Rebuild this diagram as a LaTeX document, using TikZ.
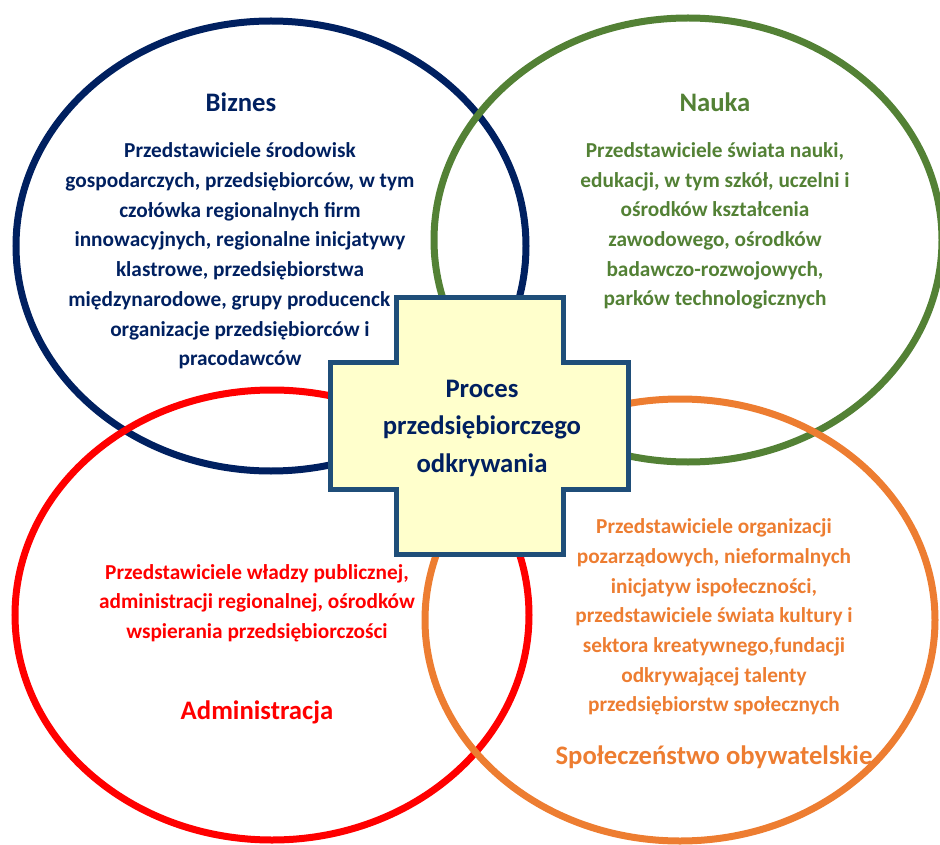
\documentclass[tikz,border=0pt]{standalone}
\usepackage{fontspec}
\setmainfont{Carlito}
\usepackage{tikz}
\usepackage{color}
\definecolor{biz}{HTML}{002060}
\definecolor{nauka}{HTML}{538135}
\definecolor{admin}{HTML}{FF0000}
\definecolor{spol}{HTML}{ED7D31}
\definecolor{ramka}{HTML}{1F4E79}
\definecolor{krzyz}{HTML}{FFFFCC}

\begin{document}
\begin{tikzpicture}[x=1pt,y=-1pt,
  krag/.style={line width=7pt},
  tytul/.style={font=\fontsize{26.7}{30}\selectfont\bfseries, inner sep=0pt},
  opis/.style={font=\fontsize{21.3}{29.7}\selectfont\bfseries, align=center, inner sep=0pt},
  srodek/.style={font=\fontsize{26.7}{37.5}\selectfont\bfseries, align=center, inner sep=0pt, text=biz}]
\useasboundingbox (0,0) rectangle (940,845);
% kola
\coordinate (b) at (271,246);
\coordinate (n) at (688,240);
\coordinate (a) at (272,615);
\coordinate (s) at (680,620);
\draw [krag, biz] (b) ellipse [x radius=255pt, y radius=225pt];
\draw [krag, nauka] (n) ellipse [x radius=254pt, y radius=222pt];
\draw [krag, admin] (a) ellipse [x radius=257pt, y radius=225pt];
\draw [krag, spol] (s) ellipse [x radius=255pt, y radius=221pt];
% biznes
\node [tytul, text=biz] (biznes) at (241,102) {Biznes};
\node [opis, text=biz] (biznesopis) at (240,256) {Przedstawiciele środowisk\\
gospodarczych, przedsiębiorców, w tym\\
czołówka regionalnych firm\\
innowacyjnych, regionalne inicjatywy\\
klastrowe,  przedsiębiorstwa\\
międzynarodowe, grupy producenck\phantom{ie,}\\
organizacje przedsiębiorców i\\
pracodawców};
% krzyz
\draw [line width=5pt, ramka, fill=krzyz] (330,362) -- (396,362) -- (396,297) -- (563,297)
  -- (563,362) -- (628,362) -- (628,489) -- (563,489) -- (563,554) -- (396,554)
  -- (396,489) -- (330,489) -- cycle;
\node [srodek] (proces) at (482,428) {Proces\\przedsiębiorczego\\odkrywania};
% nauka
\node [tytul, text=nauka] (nauka) at (715,102) {Nauka};
\node [opis, text=nauka] (naukaopis) at (715,226) {Przedstawiciele świata nauki,\\
edukacji, w tym szkół, uczelni i\\
ośrodków kształcenia\\
zawodowego, ośrodków\\
badawczo-rozwojowych,\\
parków technologicznych};
% administracja
\node [opis, text=admin] (adminopis) at (257,603) {Przedstawiciele władzy publicznej,\\
administracji regionalnej, ośrodków\\
wspierania przedsiębiorczości};
\node [tytul, text=admin] (administracja) at (257,712) {Administracja};
% spoleczenstwo
\node [opis, text=spol] (spolopis) at (714,617) {Przedstawiciele organizacji\\
pozarządowych, nieformalnych\\
inicjatyw ispołeczności,\\
przedstawiciele świata kultury i\\
sektora kreatywnego,fundacji\\
odkrywającej talenty\\
przedsiębiorstw społecznych};
\node [tytul, text=spol] (spoleczenstwo) at (714,757) {Społeczeństwo obywatelskie};
\end{tikzpicture}
\end{document}
